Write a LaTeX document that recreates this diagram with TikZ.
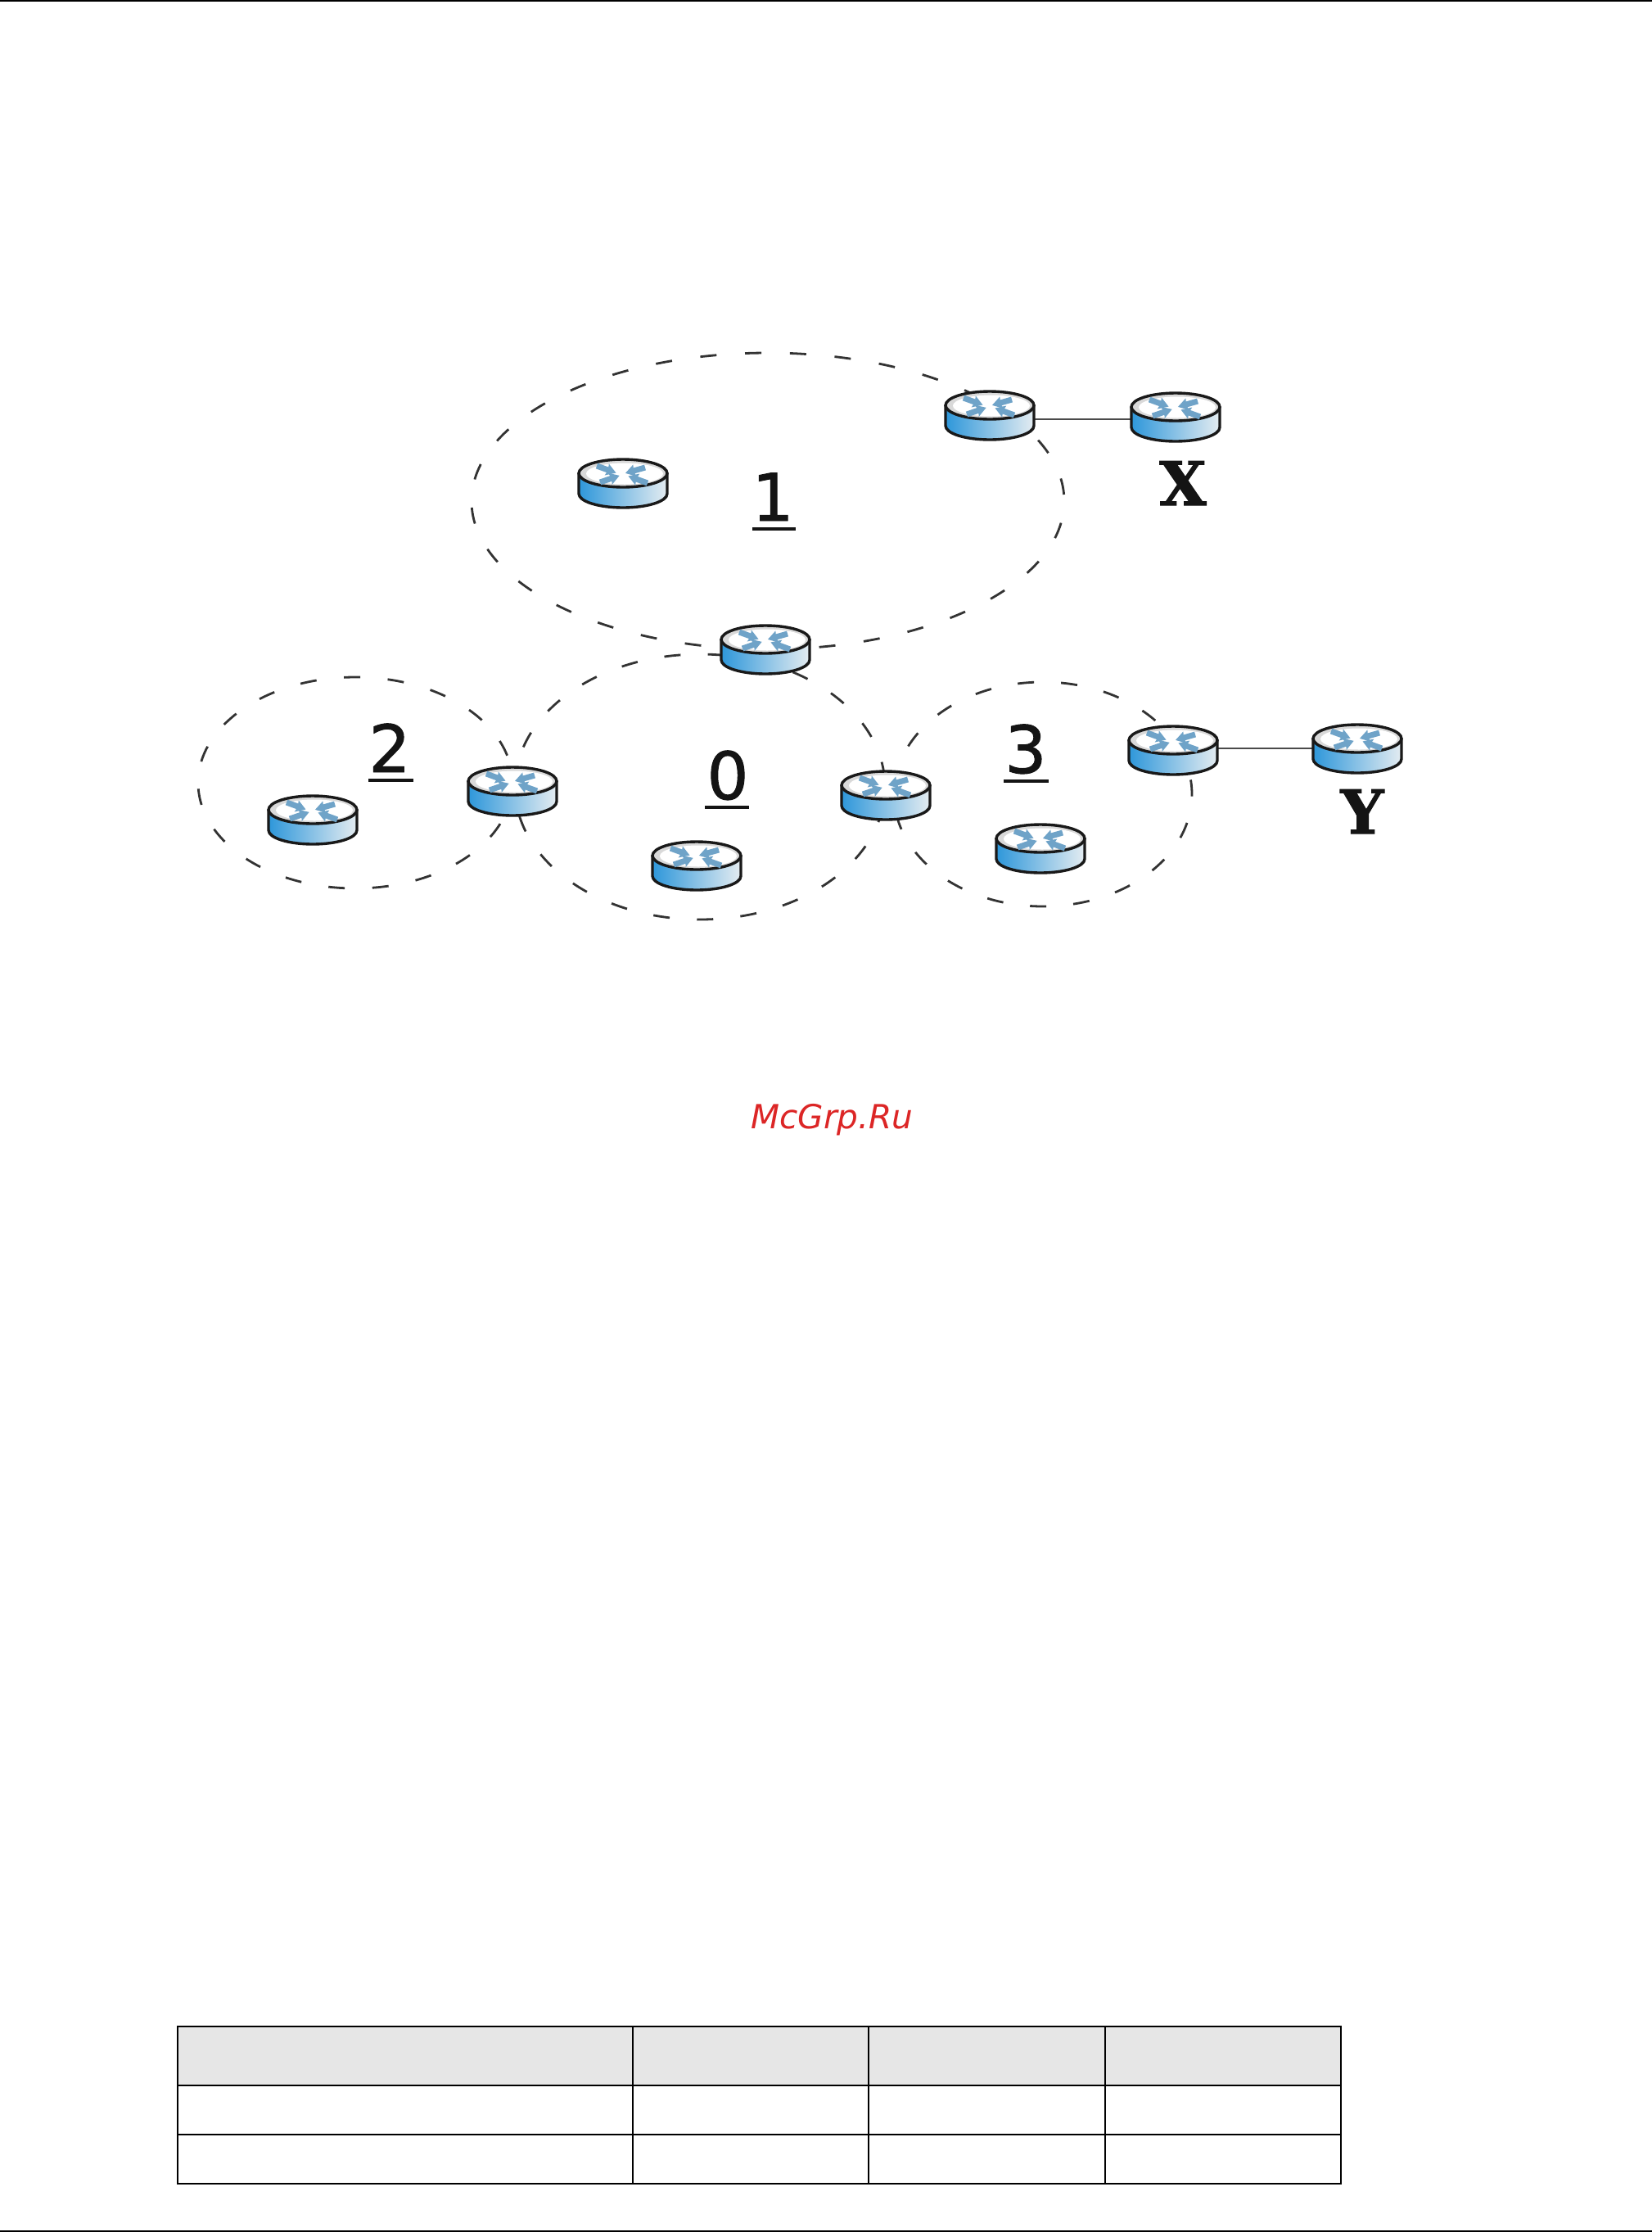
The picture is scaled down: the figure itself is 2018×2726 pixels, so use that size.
\documentclass[tikz,border=0pt]{standalone}
\usepackage{fontspec}
\setmainfont{DejaVu Sans}
\newfontfamily\digitfont[RawFeature={embolden=1.2}]{DejaVu Sans}
\newfontfamily\slabfont[RawFeature={embolden=1.5}]{DejaVu Serif Bold}
\definecolor{dashcol}{HTML}{333333}
\definecolor{linkcol}{HTML}{4A4A4A}
\definecolor{arrowcol}{HTML}{6FA3C8}
\definecolor{bodyleft}{HTML}{2E97DA}
\definecolor{bodyright}{HTML}{E4ECF1}
\definecolor{headfill}{HTML}{E6E6E6}
\definecolor{wmred}{HTML}{DC2626}
\tikzset{
  area/.style={draw=dashcol,line width=1.4pt},
  arrowmark/.pic={\fill[arrowcol] (0,-3.5) -- (14,-3.5) -- (13,-7.5) -- (25,0) -- (13,7.5) -- (14,3.5) -- (0,3.5) -- cycle;},
  routermark/.pic={
    \path[left color=bodyleft,right color=bodyright,draw=black!90,line width=1.7pt,line join=round]
      (-54,-12) -- (-54,13) arc[start angle=180,end angle=360,x radius=54,y radius=-17]
      -- (54,-12) -- cycle;
    \fill[white!85!black,draw=black!90,line width=1.7pt] (0,-12) ellipse[x radius=54,y radius=17];
    \fill[white] (2,-11.5) ellipse[x radius=47,y radius=13];
    \pic[rotate=-20] at (-32,-21) {arrowmark};
    \pic[rotate=-164] at (27,-19) {arrowmark};
    \pic[rotate=19] at (-28,-1) {arrowmark};
    \pic[rotate=160] at (30,0) {arrowmark};
  },
  routerbox/.style={minimum width=55pt,minimum height=30pt,inner sep=0pt,outer sep=0pt},
  digitlabel/.style={inner sep=0pt,anchor=base,font=\digitfont\fontsize{40}{48}\selectfont,text=black!92},
  sitelabel/.style={inner sep=0pt,anchor=base,font=\slabfont\fontsize{37}{44}\selectfont,text=black!92},
  rulemark/.style={draw=black!92,line width=1.6pt},
  link/.style={draw=linkcol,line width=1.2pt},
  tableline/.style={draw=black,line width=1.3pt},
}
\begin{document}
\begin{tikzpicture}[x=0.5pt,y=-0.5pt]
\useasboundingbox (0,0) rectangle (2018,2726);
\fill[white] (0,0) rectangle (2018,2726);
% page rules
\fill[black] (0,0) rectangle (2018,2.2);
\fill[black] (0,2724) rectangle (2018,2726);
% areas
\draw[area,dash pattern=on 10pt off 17.4pt,dash phase=13.9pt] (938,612) ellipse[x radius=362,y radius=181];
\draw[area,dash pattern=on 10pt off 16.8pt,dash phase=0.3pt] (434,956) ellipse[x radius=192,y radius=129];
\draw[area,dash pattern=on 10pt off 16.65pt,dash phase=14.6pt] (855,961) ellipse[x radius=226,y radius=162];
\draw[area,dash pattern=on 10pt off 16.5pt,dash phase=8.7pt] (1274,970) ellipse[x radius=182,y radius=137];
% routers
\node[routerbox] (rone) at (761,590) {};
\node[routerbox] (ra) at (1209,507) {};
\node[routerbox] (rx) at (1436,509) {};
\node[routerbox] (rtop) at (935,793) {};
\node[routerbox] (rleft) at (626,966) {};
\node[routerbox] (rright) at (1082,971) {};
\node[routerbox] (rzero) at (851,1057) {};
\node[routerbox] (rtwo) at (382,1001) {};
\node[routerbox] (rthree) at (1271,1036) {};
\node[routerbox] (rb) at (1433,916) {};
\node[routerbox] (ry) at (1658,914) {};
\draw[link] ([yshift=-2.5pt]ra.east) -- ([yshift=-1.5pt]rx.west);
\draw[link] ([yshift=1pt]rb.east) -- (ry.west);
\foreach \r in {rone,ra,rx,rtop,rleft,rright,rzero,rtwo,rthree,rb,ry}
  \pic at (\r.center) {routermark};
% labels
\node[digitlabel] (one) at (944,636) {1};
\node[digitlabel] (two) at (476,943) {2};
\node[digitlabel] (zero) at (889,976) {0};
\node[digitlabel] (three) at (1253,944) {3};
\draw[rulemark] (919,646) -- (972,646);
\draw[rulemark] (450,953) -- (505,953);
\draw[rulemark] (861,986) -- (915,986);
\draw[rulemark] (1226,954) -- (1281,954);
\node[sitelabel] (sitex) at (1445,617) {X};
\node[sitelabel] (sitey) at (1664,1018) {Y};
\node[inner sep=0pt,anchor=base west,text=wmred,font=\fontsize{20.3}{24}\selectfont\itshape] (wm) at (917,1378) {McGrp.Ru};
% table
\fill[headfill] (217,2475) rectangle (1638,2547);
\draw[tableline] (217,2475) rectangle (1638,2667);
\draw[tableline] (217,2547) -- (1638,2547);
\draw[tableline] (217,2607) -- (1638,2607);
\draw[tableline] (773,2475) -- (773,2667);
\draw[tableline] (1061,2475) -- (1061,2667);
\draw[tableline] (1350,2475) -- (1350,2667);
\end{tikzpicture}
\end{document}
